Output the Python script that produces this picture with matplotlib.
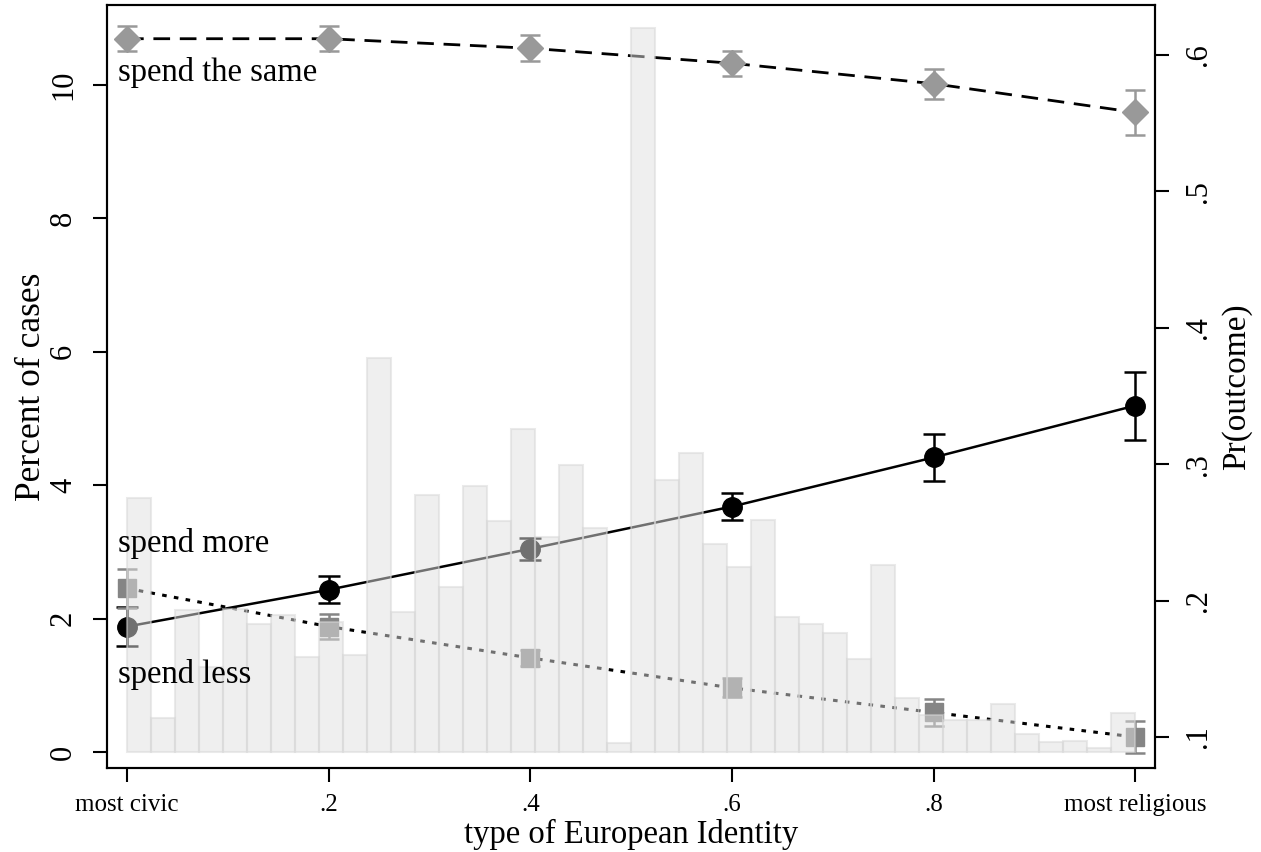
import numpy as np
import matplotlib
matplotlib.use("Agg")
import matplotlib.pyplot as plt

plt.rcParams['font.family'] = 'serif'
plt.rcParams['font.serif'] = ['Liberation Serif', 'DejaVu Serif']

# histogram of identity scores (percent of cases), 42 bins over [0, 1]
bar_pct = [3.81, 0.51, 2.13, 1.27, 2.15, 1.92, 2.06, 1.43, 1.95, 1.45,
           5.90, 2.10, 3.85, 2.47, 3.99, 3.46, 4.84, 3.22, 4.30, 3.36,
           0.13, 10.85, 4.08, 4.48, 3.12, 2.78, 3.48, 2.03, 1.92, 1.78,
           1.40, 2.80, 0.81, 0.55, 0.48, 0.48, 0.72, 0.27, 0.15, 0.16,
           0.06, 0.58]

# predicted probabilities
x_pos = [0, 0.2, 0.4, 0.6, 0.8, 1.0]
same = [0.612, 0.612, 0.605, 0.594, 0.579, 0.558]
same_err = [0.009, 0.009, 0.0095, 0.009, 0.011, 0.0165]
more = [0.181, 0.208, 0.238, 0.269, 0.305, 0.343]
more_err = [0.014, 0.010, 0.008, 0.010, 0.017, 0.025]
less = [0.209, 0.181, 0.158, 0.136, 0.118, 0.100]
less_err = [0.0145, 0.009, 0.006, 0.007, 0.010, 0.012]

xtick_labels = ["most civic", ".2", ".4", ".6", ".8", "most religious"]
left_ticks = [0, 2, 4, 6, 8, 10]
right_ticks = [0.1, 0.2, 0.3, 0.4, 0.5, 0.6]
right_labels = [".1", ".2", ".3", ".4", ".5", ".6"]

fig = plt.figure(figsize=(12.61, 8.52), dpi=100)
ax = fig.add_axes([0.0849, 0.0986, 0.8312, 0.8955])
ax2 = ax.twinx()
# lines sit under the semi-transparent bars
ax2.set_zorder(ax.get_zorder() - 1)
ax.patch.set_visible(False)

nbins = len(bar_pct)
edges = np.linspace(0, 1, nbins + 1)
ax.bar(edges[:-1], bar_pct, width=1.0 / nbins, align='edge',
       facecolor=(0.88, 0.88, 0.88, 0.5),
       edgecolor=(0.84, 0.84, 0.84, 0.5), linewidth=1.5)

# outcome lines
ax2.plot(x_pos, same, color='black', lw=2, linestyle=(0, (6, 3.5)))
ax2.plot(x_pos, more, color='black', lw=1.8)
ax2.plot(x_pos, less, color='black', lw=2.2, linestyle=(0, (1.5, 2.4)))

ax2.errorbar(x_pos, same, yerr=same_err, fmt='D', color='#999999',
             ecolor='#999999', markersize=13.5, capsize=7, elinewidth=1.8,
             capthick=1.8)
ax2.errorbar(x_pos, more, yerr=more_err, fmt='o', color='black',
             ecolor='black', markersize=14, capsize=8, elinewidth=1.8,
             capthick=1.8)
ax2.errorbar(x_pos, less, yerr=less_err, fmt='s', color='#858585',
             ecolor='#858585', markersize=13, capsize=7, elinewidth=1.8,
             capthick=1.8)

ax.set_xlim(-0.0198, 1.0198)
ax.set_ylim(-0.24, 11.2)
ax2.set_ylim(0.0773, 0.6367)

ax.set_xticks(x_pos)
ax.set_xticklabels(xtick_labels)
ax.set_yticks(left_ticks)
ax.set_yticklabels([str(t) for t in left_ticks])
ax2.set_yticks(right_ticks)
ax2.set_yticklabels(right_labels)

ax.tick_params(axis='x', length=10, width=1.5, labelsize=18, pad=9)
ax.tick_params(axis='y', length=10, width=1.5, labelsize=22, pad=11,
               labelrotation=90)
ax2.tick_params(axis='y', length=10, width=1.5, labelsize=22, pad=11,
                labelrotation=90)
for lab in ax.get_yticklabels():
    lab.set_va('center')
for lab in ax2.get_yticklabels():
    lab.set_va('center')

for a in (ax, ax2):
    for s in a.spines.values():
        s.set_linewidth(1.5)

ax.set_xlabel("type of European Identity", fontsize=23.5, labelpad=2)
ax.set_ylabel("Percent of cases", fontsize=25.5, labelpad=1)
ax2.set_ylabel("Pr(outcome)", fontsize=24, labelpad=6)

# curve labels, drawn above the bars
ax.text(-0.009, 0.5875, "spend the same", transform=ax2.transData,
        fontsize=23.5, va='center', ha='left')
ax.text(-0.009, 0.2422, "spend more", transform=ax2.transData,
        fontsize=23.5, va='center', ha='left')
ax.text(-0.009, 0.1455, "spend less", transform=ax2.transData,
        fontsize=23.5, va='center', ha='left')

fig.savefig("out.png", dpi=100)
